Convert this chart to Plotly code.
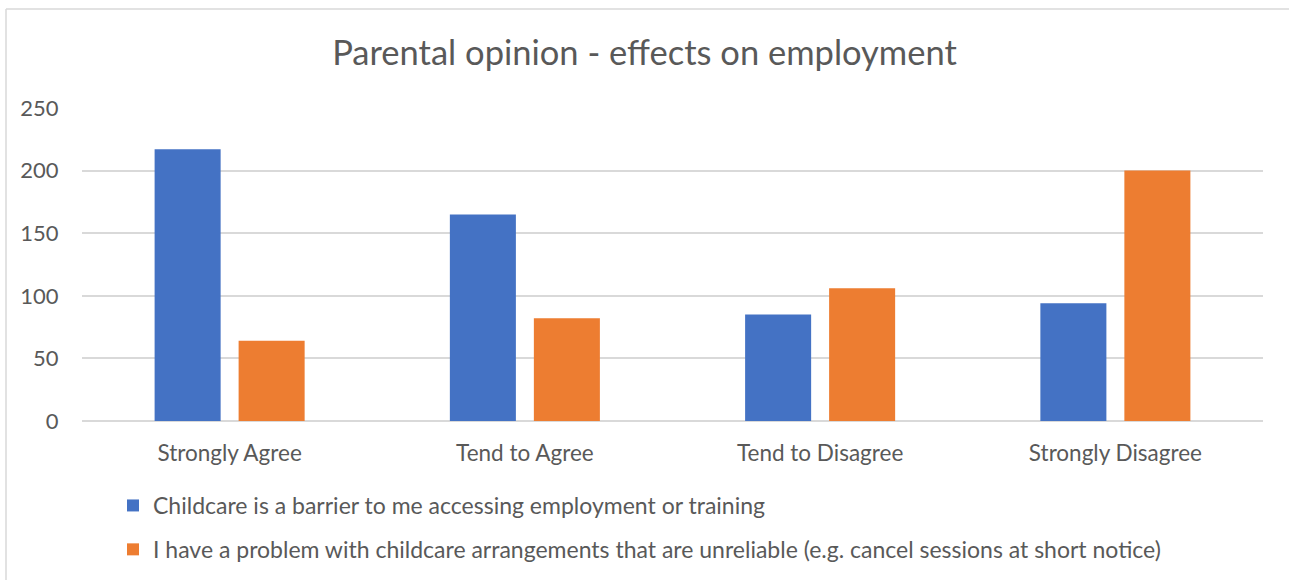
import plotly.graph_objects as go

categories = ["Strongly Agree", "Tend to Agree", "Tend to Disagree", "Strongly Disagree"]
barrier = [217, 165, 85, 94]
unreliable = [64, 82, 106, 200]
series_names = [
    "Childcare is a barrier to me accessing employment or training",
    "I have a problem with childcare arrangements that are unreliable (e.g. cancel sessions at short notice)",
]
y_ticks = [0, 50, 100, 150, 200, 250]

FONT = "Lato, Calibri, Carlito, sans-serif"
GREY = "#595959"

fig = go.Figure()
fig.add_trace(go.Bar(x=categories, y=barrier, name=series_names[0],
                     marker=dict(color="#4472C4", line=dict(width=0)), legendgroup="a"))
fig.add_trace(go.Bar(x=categories, y=unreliable, name=series_names[1],
                     marker=dict(color="#ED7D31", line=dict(width=0)), legendgroup="b"))

L, R, T, B = 82, 26, 108, 159
W, H = 1289, 580
pw, ph = W - L - R, H - T - B

def px(x):
    return (x - L) / pw

def py(y):
    return (H - B - y) / ph

fig.update_layout(
    width=W, height=H,
    margin=dict(l=L, r=R, t=T, b=B, autoexpand=False),
    paper_bgcolor="white", plot_bgcolor="white",
    barmode="group", bargap=0.431, bargroupgap=0.214,
    font=dict(family=FONT, color=GREY, size=22),
    title=dict(text="Parental opinion - effects on employment",
               x=0.5, xanchor="center", y=1 - 53 / H, yanchor="middle",
               font=dict(family=FONT, size=34.5, color=GREY)),
    xaxis=dict(showgrid=False, showline=False, ticks="outside", ticklen=12,
               tickcolor="rgba(0,0,0,0)", tickfont=dict(size=22.5, color=GREY)),
    yaxis=dict(range=[0, 250], tickvals=y_ticks, showgrid=True, gridcolor="#d9d9d9",
               gridwidth=1.5, zeroline=True, zerolinecolor="#d9d9d9", zerolinewidth=1.5,
               ticks="outside", ticklen=18, tickcolor="rgba(0,0,0,0)",
               tickfont=dict(size=22, color=GREY)),
    showlegend=True,
    legend=dict(orientation="v", x=px(113), xanchor="left", y=py(484), yanchor="top",
                traceorder="grouped", tracegroupgap=11,
                font=dict(size=23, color=GREY), bgcolor="rgba(0,0,0,0)"),
    shapes=[
        dict(type="line", xref="paper", yref="paper", x0=px(6), x1=px(1289), y0=py(9), y1=py(9),
             line=dict(color="#d9d9d9", width=1.5)),
        dict(type="line", xref="paper", yref="paper", x0=px(6), x1=px(6), y0=py(9), y1=py(580),
             line=dict(color="#d9d9d9", width=1.5)),
    ],
)

fig.write_html("out.html", config={"displayModeBar": False},
               post_script="document.body.style.margin='0';document.body.style.overflow='hidden';")
